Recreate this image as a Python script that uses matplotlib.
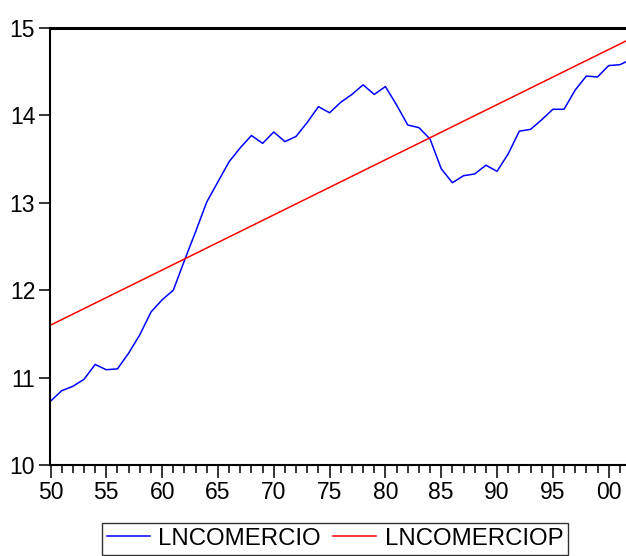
import matplotlib
matplotlib.use('Agg')
from matplotlib import pyplot as plt
from matplotlib.ticker import MultipleLocator, FuncFormatter

plt.rcParams['font.family'] = ['Liberation Sans', 'DejaVu Sans']

# LNCOMERCIO, yearly 1950-2002
years = list(range(1950, 2003))
lncomercio = [10.73, 10.85, 10.90, 10.98, 11.15, 11.09, 11.10, 11.28, 11.49, 11.75,
              11.89, 12.00, 12.34, 12.67, 13.01, 13.24, 13.47, 13.63, 13.77, 13.68,
              13.81, 13.70, 13.76, 13.92, 14.10, 14.03, 14.15, 14.24, 14.35, 14.24,
              14.33, 14.12, 13.89, 13.86, 13.73, 13.39, 13.23, 13.31, 13.33, 13.43,
              13.36, 13.56, 13.82, 13.84, 13.95, 14.07, 14.07, 14.29, 14.45, 14.44,
              14.57, 14.58, 14.64]

# LNCOMERCIOP, fitted linear trend (straight line between its end values)
trend_years = [1950, 2002]
lncomerciop = [11.60, 14.88]

fig = plt.figure(figsize=(6.26, 5.56), dpi=100)
ax = fig.add_axes([50.5 / 626, 91 / 556, 580.5 / 626, 528 / 556 - 91 / 556])

ax.plot(years, lncomercio, color='#0000ff', lw=1.1, label='LNCOMERCIO')
ax.plot(trend_years, lncomerciop, color='#ff0000', lw=1.1, label='LNCOMERCIOP')

ax.set_xlim(1950, 2002)
ax.set_ylim(10, 15)
ax.yaxis.set_major_locator(MultipleLocator(1))
ax.xaxis.set_major_locator(MultipleLocator(5))
ax.xaxis.set_minor_locator(MultipleLocator(1))
ax.xaxis.set_major_formatter(FuncFormatter(lambda v, p: '%02d' % (int(round(v)) % 100)))

ax.tick_params(axis='y', which='major', direction='out', length=8, width=1.1,
               labelsize=16.5, pad=3)
ax.tick_params(axis='x', which='major', direction='out', length=9.4, width=1.1,
               labelsize=16.5, pad=2)
ax.tick_params(axis='x', which='minor', direction='out', length=5.8, width=1.1)

for side in ['left', 'bottom']:
    ax.spines[side].set_linewidth(1.5)
ax.spines['top'].set_linewidth(2.2)
ax.spines['right'].set_linewidth(1.5)

fig.legend(loc='upper left', bbox_to_anchor=(102 / 626, 1 - 523 / 556), ncol=2,
           fontsize=17.3, frameon=True, fancybox=False, edgecolor='black',
           handlelength=1.8, handletextpad=0.35, columnspacing=0.5,
           borderpad=0.2, borderaxespad=0)

fig.savefig('out.png', dpi=100)
